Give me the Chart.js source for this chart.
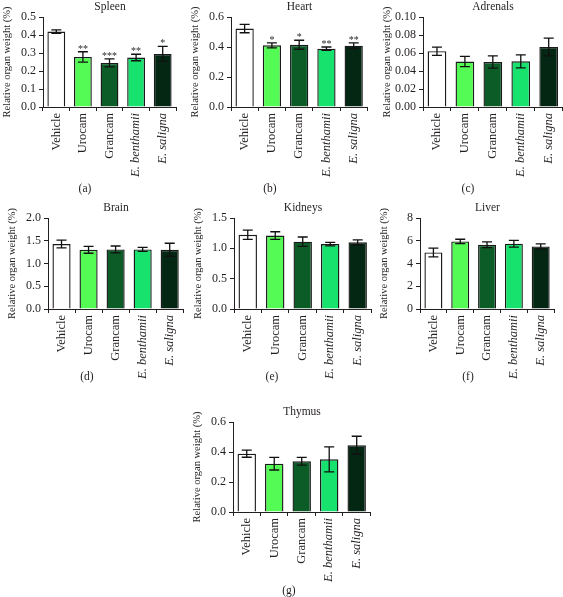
<!DOCTYPE html>
<html>
<head>
<meta charset="utf-8">
<script src="https://cdn.jsdelivr.net/npm/chart.js@4.4.0/dist/chart.umd.min.js"></script>
<style>
body { margin: 0; background: #fff; }
#wrap { position: relative; width: 563px; height: 597px; overflow: hidden; font-family: "Liberation Serif", serif; color: #231f20; }
#wrap canvas { position: absolute; }
.lbl { position: absolute; transform: translate(-50%, -50%); font-size: 11.5px; white-space: nowrap; }
</style>
</head>
<body>
<div id="wrap"></div>
<script>
// groups on the x axis
const groups = ['Vehicle', 'Urocam', 'Grancam', 'E. benthamii', 'E. saligna'];
const barColors = ['#ffffff', '#55fb55', '#0c5c27', '#17e26e', '#032712'];

// mean and SEM of relative organ weight (%)
const spleenMean = [0.419, 0.278, 0.245, 0.275, 0.295];
const spleenSem = [0.010, 0.029, 0.022, 0.018, 0.042];
const spleenStars = ['', '**', '***', '**', '*'];

const heartMean = [0.523, 0.411, 0.415, 0.389, 0.409];
const heartSem = [0.028, 0.017, 0.030, 0.011, 0.019];
const heartStars = ['', '*', '*', '**', '**'];

const adrenalsMean = [0.062, 0.0505, 0.050, 0.0507, 0.0667];
const adrenalsSem = [0.0046, 0.0057, 0.0067, 0.0072, 0.0098];

const brainMean = [1.427, 1.30, 1.31, 1.31, 1.30];
const brainSem = [0.085, 0.075, 0.075, 0.044, 0.145];

const kidneysMean = [1.224, 1.21, 1.11, 1.07, 1.10];
const kidneysSem = [0.077, 0.063, 0.077, 0.028, 0.041];

const liverMean = [4.97, 5.94, 5.65, 5.74, 5.50];
const liverSem = [0.38, 0.19, 0.25, 0.30, 0.22];

const thymusMean = [0.389, 0.322, 0.338, 0.351, 0.445];
const thymusSem = [0.024, 0.042, 0.026, 0.083, 0.060];

// draws the SEM whiskers and the significance stars over each bar
const errorBars = {
    id: 'errorBars',
    afterDatasetsDraw(chart, args, opts) {
        const ctx = chart.ctx;
        const y = chart.scales.y;
        const data = chart.data.datasets[0].data;
        chart.getDatasetMeta(0).data.forEach(function (bar, i) {
            const top = y.getPixelForValue(data[i] + opts.sem[i]);
            const bot = y.getPixelForValue(data[i] - opts.sem[i]);
            ctx.save();
            ctx.strokeStyle = '#111';
            ctx.lineWidth = 1.3;
            ctx.beginPath();
            ctx.moveTo(bar.x, top); ctx.lineTo(bar.x, bot);
            ctx.moveTo(bar.x - 5, top); ctx.lineTo(bar.x + 5, top);
            ctx.moveTo(bar.x - 5, bot); ctx.lineTo(bar.x + 5, bot);
            ctx.stroke();
            if (opts.stars && opts.stars[i]) {
                ctx.fillStyle = '#231f20';
                ctx.font = '10px "Liberation Serif"';
                ctx.textAlign = 'center';
                ctx.textBaseline = 'alphabetic';
                ctx.fillText(opts.stars[i], bar.x, top);
            }
            ctx.restore();
        });
    }
};

function makePanel(p) {
    const wrap = document.getElementById('wrap');
    const canvas = document.createElement('canvas');
    const left = p.plotL - 43, top = p.plotT - 17;
    const w = p.plotR - left + 3, h = 180;
    canvas.width = w; canvas.height = h;
    canvas.style.left = left + 'px';
    canvas.style.top = top + 'px';
    wrap.appendChild(canvas);

    const title = document.createElement('div');
    title.className = 'lbl';
    title.textContent = p.title;
    title.style.left = ((p.plotL + p.plotR) / 2) + 'px';
    title.style.top = (p.plotT - 11.5) + 'px';
    wrap.appendChild(title);

    const letter = document.createElement('div');
    letter.className = 'lbl';
    letter.textContent = p.letter;
    letter.style.left = p.letterX + 'px';
    letter.style.top = p.letterY + 'px';
    wrap.appendChild(letter);

    const xHeight = h - 17 - (p.plotB - p.plotT);

    new Chart(canvas, {
        type: 'bar',
        data: {
            labels: groups,
            datasets: [{
                data: p.mean,
                backgroundColor: barColors,
                borderColor: '#1a1a1a',
                borderWidth: 1.4,
                categoryPercentage: 1,
                barPercentage: 0.67
            }]
        },
        options: {
            responsive: false,
            animation: false,
            layout: { padding: { top: 17, right: 3, left: 0, bottom: 0 } },
            plugins: {
                legend: { display: false },
                tooltip: { enabled: false },
                errorBars: { sem: p.sem, stars: p.stars }
            },
            scales: {
                x: {
                    offset: true,
                    grid: { display: true, drawOnChartArea: false, tickLength: 4, color: '#231f20' },
                    border: { display: true, color: '#231f20', width: 1 },
                    ticks: {
                        minRotation: 90, maxRotation: 90, autoSkip: false, padding: 2,
                        color: '#231f20',
                        font: function (c) {
                            return { family: 'Liberation Serif', size: 12.5, style: c.index >= 3 ? 'italic' : 'normal' };
                        }
                    },
                    afterFit: function (scale) { scale.height = xHeight; }
                },
                y: {
                    min: 0, max: p.max,
                    grid: { display: true, drawOnChartArea: false, tickLength: 4, color: '#231f20' },
                    border: { display: true, color: '#231f20', width: 1 },
                    ticks: {
                        stepSize: p.step, padding: 3, color: '#231f20',
                        font: { family: 'Liberation Serif', size: 12 },
                        callback: function (v) { return v.toFixed(p.dec); }
                    },
                    title: {
                        display: true, text: 'Relative organ weight (%)', color: '#231f20',
                        font: { family: 'Liberation Serif', size: 10.5 },
                        padding: { top: 1, bottom: 0 }
                    },
                    afterFit: function (scale) { scale.width = 43; }
                }
            }
        },
        plugins: [errorBars]
    });
}

makePanel({ title: 'Spleen', letter: '(a)', mean: spleenMean, sem: spleenSem, stars: spleenStars, max: 0.5, step: 0.1, dec: 1,
    plotL: 43, plotR: 177, plotT: 17, plotB: 107, letterX: 85, letterY: 188 });
makePanel({ title: 'Heart', letter: '(b)', mean: heartMean, sem: heartSem, stars: heartStars, max: 0.6, step: 0.2, dec: 1,
    plotL: 231, plotR: 368, plotT: 17, plotB: 107, letterX: 270, letterY: 188 });
makePanel({ title: 'Adrenals', letter: '(c)', mean: adrenalsMean, sem: adrenalsSem, max: 0.10, step: 0.02, dec: 2,
    plotL: 423, plotR: 563, plotT: 17, plotB: 107, letterX: 468, letterY: 188 });
makePanel({ title: 'Brain', letter: '(d)', mean: brainMean, sem: brainSem, max: 2.0, step: 0.5, dec: 1,
    plotL: 48, plotR: 184, plotT: 218, plotB: 309, letterX: 87, letterY: 376 });
makePanel({ title: 'Kidneys', letter: '(e)', mean: kidneysMean, sem: kidneysSem, max: 1.5, step: 0.5, dec: 1,
    plotL: 234, plotR: 372, plotT: 218, plotB: 309, letterX: 272, letterY: 376 });
makePanel({ title: 'Liver', letter: '(f)', mean: liverMean, sem: liverSem, max: 8, step: 2, dec: 0,
    plotL: 420, plotR: 555, plotT: 218, plotB: 309, letterX: 468, letterY: 376 });
makePanel({ title: 'Thymus', letter: '(g)', mean: thymusMean, sem: thymusSem, max: 0.6, step: 0.2, dec: 1,
    plotL: 233, plotR: 371, plotT: 422, plotB: 512, letterX: 289, letterY: 590 });
</script>
</body>
</html>
